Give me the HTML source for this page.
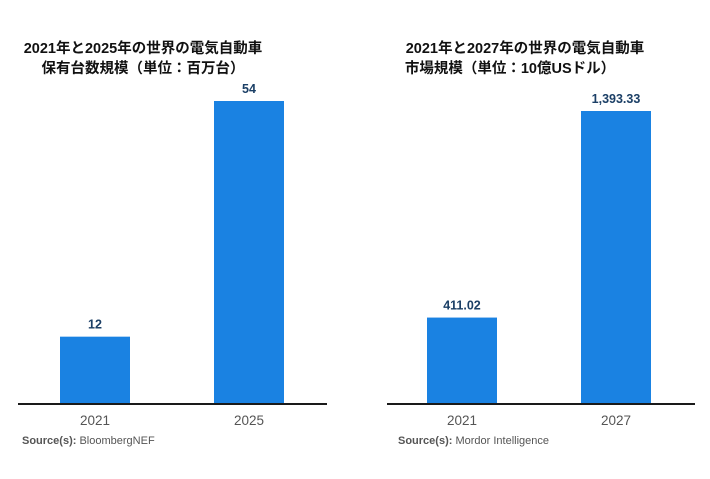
<!DOCTYPE html>
<html><head><meta charset="utf-8"><style>
body{margin:0;background:#fff;width:710px;height:474px;overflow:hidden}
svg text{font-family:"Liberation Sans","Noto Sans CJK JP",sans-serif}
</style></head><body>
<svg width="710" height="474">
<text x="143" y="53" font-size="14.5" font-weight="bold" text-anchor="middle" fill="#111">2021年と2025年の世界の電気自動車</text>
<text x="143" y="73" font-size="14.5" font-weight="bold" text-anchor="middle" fill="#111">保有台数規模（単位：百万台）</text>
<text x="525" y="53" font-size="14.5" font-weight="bold" text-anchor="middle" fill="#111">2021年と2027年の世界の電気自動車</text>
<text x="510" y="73" font-size="14.5" font-weight="bold" text-anchor="middle" fill="#111">市場規模（単位：10億USドル）</text>
<g id="left"></g>
<g id="right"></g>
<text x="22" y="444" font-size="11" fill="#555"><tspan font-weight="bold">Source(s):</tspan> BloombergNEF</text>
<text x="398" y="444" font-size="11" fill="#555"><tspan font-weight="bold">Source(s):</tspan> Mordor Intelligence</text>
</svg>
<script>
const leftCategories=["2021","2025"];
const leftValues=[12,54];
const leftLabels=["12","54"];
const rightCategories=["2021","2027"];
const rightValues=[411.02,1393.33];
const rightLabels=["411.02","1,393.33"];
const NS="http://www.w3.org/2000/svg";
function mk(t,a,p){const e=document.createElementNS(NS,t);for(const k in a)e.setAttribute(k,a[k]);p.appendChild(e);return e;}
function draw(gid,cats,vals,labels,x0,x1,centers,maxV,maxPx,pfx){
  const g=document.getElementById(gid);
  const base=404;
  const y=v=>base-v/maxV*maxPx;
  cats.forEach((c,i)=>{
    const cx=centers[i];
    const r=mk('rect',{x:cx-35,y:y(vals[i]),width:70,height:base-y(vals[i]),fill:'#1a82e2'},g);
    
    
    const l=mk('text',{x:cx,y:y(vals[i])-8,'font-size':'12.5','font-weight':'bold','text-anchor':'middle',fill:'#1b3f66'},g);
    l.textContent=labels[i];
    
    
    const t=mk('text',{x:cx,y:425,'font-size':'13.5','text-anchor':'middle',fill:'#555'},g);
    t.textContent=c;
    
    
  });
  const a=mk('line',{x1:x0,x2:x1,y1:base,y2:base,stroke:'#1a1a1a','stroke-width':2},g);
  
  
}
draw('left',leftCategories,leftValues,leftLabels,18,327,[95,249],54,303,'left');
draw('right',rightCategories,rightValues,rightLabels,387,695,[462,616],1393.33,293,'right');
</script>
</body></html>
